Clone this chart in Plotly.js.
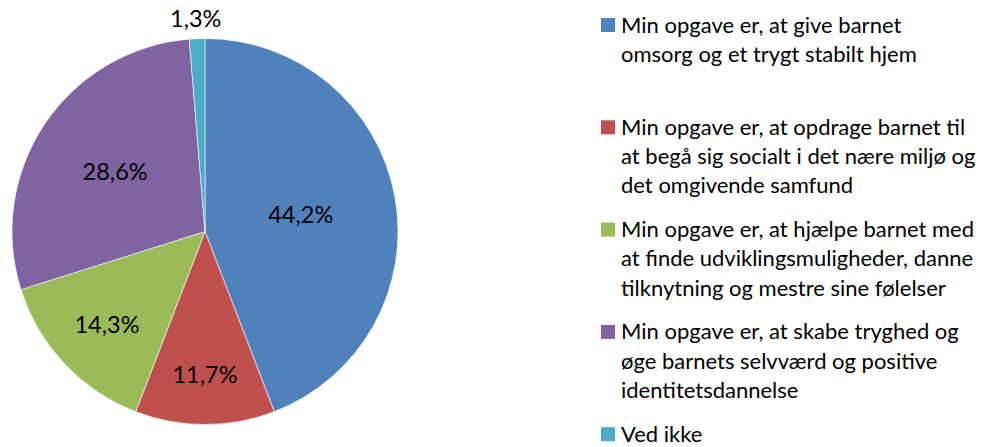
<!DOCTYPE html>
<html>
<head>
<meta charset="utf-8">
<script src="https://cdn.plot.ly/plotly-3.0.1.min.js"></script>
<style>html,body{margin:0;padding:0;background:#fff;} #chart{width:989px;height:447px;}</style>
</head>
<body>
<div id="chart"></div>
<script>
// Data
const categories = [
  "Min opgave er, at give barnet<br>omsorg og et trygt stabilt hjem",
  "Min opgave er, at opdrage barnet til<br>at begå sig socialt i det nære miljø og<br>det omgivende samfund",
  "Min opgave er, at hjælpe barnet med<br>at finde udviklingsmuligheder, danne<br>tilknytning og mestre sine følelser",
  "Min opgave er, at skabe tryghed og<br>øge barnets selvværd og positive<br>identitetsdannelse",
  "Ved ikke"
];
const values = [44.2, 11.7, 14.3, 28.6, 1.3];
const colors = ["#4F81BD", "#C0504D", "#9BBB59", "#8064A2", "#4BACC6"];

const W = 989, H = 447;
const FONT = "Lato, 'Liberation Sans', sans-serif";
const total = values.reduce((a, b) => a + b, 0);
const fmtPct = v => (v / total * 100).toFixed(1).replace(".", ",") + "%";

const trace = {
  type: "pie",
  labels: categories.map(c => c.replace(/<br>/g, " ")),
  values: values,
  sort: false,
  direction: "clockwise",
  rotation: 0,
  marker: { colors: colors, line: { color: "#ffffff", width: 0.6 } },
  // the tiny last slice gets its label placed above the pie (annotation below)
  texttemplate: values.map((v, i) => i === values.length - 1 ? "" : "%{percent:.1%}"),
  textposition: "inside",
  insidetextorientation: "horizontal",
  textfont: { family: FONT, size: 23.5, color: "#000000" },
  domain: { x: [12 / W, 398 / W], y: [(H - 424.5) / H, (H - 38.5) / H] },
  showlegend: false,
  hoverinfo: "label+percent"
};

// Custom legend (built from categories / colors)
const annotations = [];
const shapes = [];
const legendFont = 22;
const entryPitch = 102.3, linePitch = 29.3, firstBaseline = 32;
categories.forEach((cat, k) => {
  const lines = cat.split("<br>");
  const base0 = firstBaseline + k * entryPitch;
  shapes.push({
    type: "rect", xref: "paper", yref: "paper",
    x0: 601 / W, x1: 615 / W,
    y0: 1 - base0 / H, y1: 1 - (base0 - 14) / H,
    fillcolor: colors[k], line: { width: 0 }
  });
  lines.forEach((ln, i) => {
    const base = base0 + i * linePitch;
    annotations.push({
      xref: "paper", yref: "paper",
      x: 620 / W, y: 1 - (base - 0.36 * legendFont) / H,
      xanchor: "left", yanchor: "middle",
      text: ln, showarrow: false,
      font: { family: FONT, size: legendFont, color: "#000000" },
      borderpad: 0
    });
  });
});

// label of the small "Ved ikke" slice, above the pie
annotations.push({
  xref: "paper", yref: "paper",
  x: 195 / W, y: 1 - 18 / H,
  xanchor: "center", yanchor: "middle",
  text: fmtPct(values[values.length - 1]), showarrow: false,
  font: { family: FONT, size: 23.5, color: "#000000" },
  borderpad: 0
});

const layout = {
  width: W, height: H,
  margin: { l: 0, r: 0, t: 0, b: 0 },
  paper_bgcolor: "#ffffff",
  plot_bgcolor: "#ffffff",
  separators: ",.",
  showlegend: false,
  annotations: annotations,
  shapes: shapes,
  font: { family: FONT }
};

Plotly.newPlot("chart", [trace], layout, { displayModeBar: false, staticPlot: true });
</script>
</body>
</html>
